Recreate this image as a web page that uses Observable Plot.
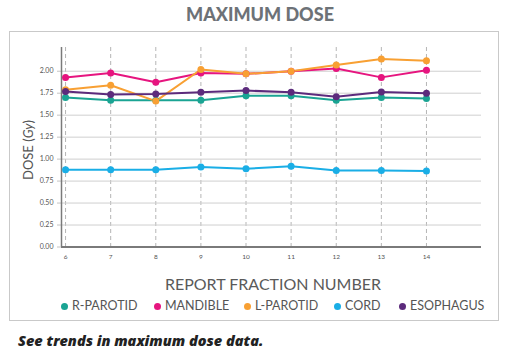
<!DOCTYPE html>
<html><head><meta charset="utf-8">
<script src="https://cdn.jsdelivr.net/npm/d3@7"></script>
<script src="https://cdn.jsdelivr.net/npm/@observablehq/plot@0.6"></script>
<style>
body{margin:0;width:517px;height:358px;position:relative;background:#fff;font-family:Lato,"Open Sans",sans-serif;overflow:hidden}
#title{position:absolute;left:0;width:520px;top:3px;text-align:center;font-weight:900;font-size:18px;color:#6d7277;}
#box{position:absolute;left:9px;top:31px;width:490px;height:290px;border:1px solid #c9c9c9;box-sizing:border-box}
#chart{position:absolute;left:0;top:40px}
#ylabel{position:absolute;left:28px;top:150px;transform:translate(-50%,-50%) rotate(-90deg);white-space:nowrap;font-size:13px;color:#555}
#xlabel{position:absolute;left:0;width:546px;top:274px;text-align:center;font-size:16px;color:#5a5a5a}
.leg{position:absolute;top:298px;font-size:12.5px;color:#555;white-space:nowrap;line-height:16px}
.leg i{position:absolute;left:-11px;top:4.5px;width:7px;height:7px;border-radius:50%}
#caption{position:absolute;left:18px;top:331px;font-family:"Open Sans",sans-serif;font-size:14.5px;font-weight:800;font-style:italic;color:#222;line-height:20px}
</style></head>
<body>
<div id="title">MAXIMUM DOSE</div>
<div id="box"></div>
<div id="chart"></div>
<div id="ylabel">DOSE (<em>Gy</em>)</div>
<div id="xlabel">REPORT FRACTION NUMBER</div>
<div id="legend"></div>
<div id="caption">See trends in maximum dose data.</div>
<script>
const fractions = [6, 7, 8, 9, 10, 11, 12, 13, 14];
const rParotid  = [1.70, 1.67, 1.67, 1.67, 1.72, 1.72, 1.67, 1.70, 1.69];
const mandible  = [1.93, 1.98, 1.875, 1.98, 1.97, 2.00, 2.03, 1.93, 2.01];
const lParotid  = [1.79, 1.84, 1.66, 2.02, 1.97, 2.00, 2.07, 2.14, 2.12];
const cord      = [0.88, 0.88, 0.88, 0.91, 0.89, 0.92, 0.87, 0.87, 0.865];
const esophagus = [1.77, 1.735, 1.74, 1.76, 1.78, 1.76, 1.71, 1.765, 1.75];
const seriesNames = ["R-PAROTID", "MANDIBLE", "L-PAROTID", "CORD", "ESOPHAGUS"];
const seriesColors = ["#1aa493", "#e6157f", "#f8a033", "#1aaee6", "#5c2b7c"];
const yTicks = [0, 0.25, 0.5, 0.75, 1.0, 1.25, 1.5, 1.75, 2.0];

const seriesValues = [rParotid, mandible, lParotid, cord, esophagus];
const rows = seriesNames.flatMap((s, i) => fractions.map((f, j) => ({series: s, fraction: f, dose: seriesValues[i][j]})));

const chart = Plot.plot({
  width: 517, height: 230,
  marginLeft: 61, marginRight: 36, marginTop: 7, marginBottom: 23.5,
  style: {fontFamily: "Lato, 'Open Sans', sans-serif", background: "transparent"},
  x: {domain: [5.91, 15.22]},
  y: {domain: [0, 2.27]},
  color: {domain: seriesNames, range: seriesColors},
  marks: [
    Plot.gridX(fractions, {stroke: "#b5b5b5", strokeOpacity: 1, strokeDasharray: "4,3"}),
    Plot.gridY(yTicks, {stroke: "#cfcfcf", strokeOpacity: 1}),
    Plot.axisY({ticks: yTicks, tickSize: 4, tickPadding: 4, tickFormat: d => d.toFixed(2), stroke: "#c4c4c4", fontSize: 7, fill: "#555", label: null}),
    Plot.axisX({ticks: fractions, tickSize: 0, tickPadding: 7, fontSize: 6.5, fill: "#555", label: null}),
    Plot.ruleX([5.91], {stroke: "#7a7a7a", strokeWidth: 1.5}),
    Plot.ruleY([0], {stroke: "#7a7a7a", strokeWidth: 2}),
    Plot.line(rows, {x: "fraction", y: "dose", z: "series", stroke: "series", strokeWidth: 2}),
    Plot.dot(rows, {x: "fraction", y: "dose", fill: "series", r: 3.5})
  ]
});
document.getElementById("chart").appendChild(chart);

const legendLefts = [72, 165, 255, 345, 410];
const legend = document.getElementById("legend");
seriesNames.forEach((s, i) => {
  const d = document.createElement("div");
  d.className = "leg";
  d.style.left = legendLefts[i] + "px";
  d.innerHTML = `<i style="background:${seriesColors[i]}"></i>${s}`;
  legend.appendChild(d);
});
</script>
</body></html>
